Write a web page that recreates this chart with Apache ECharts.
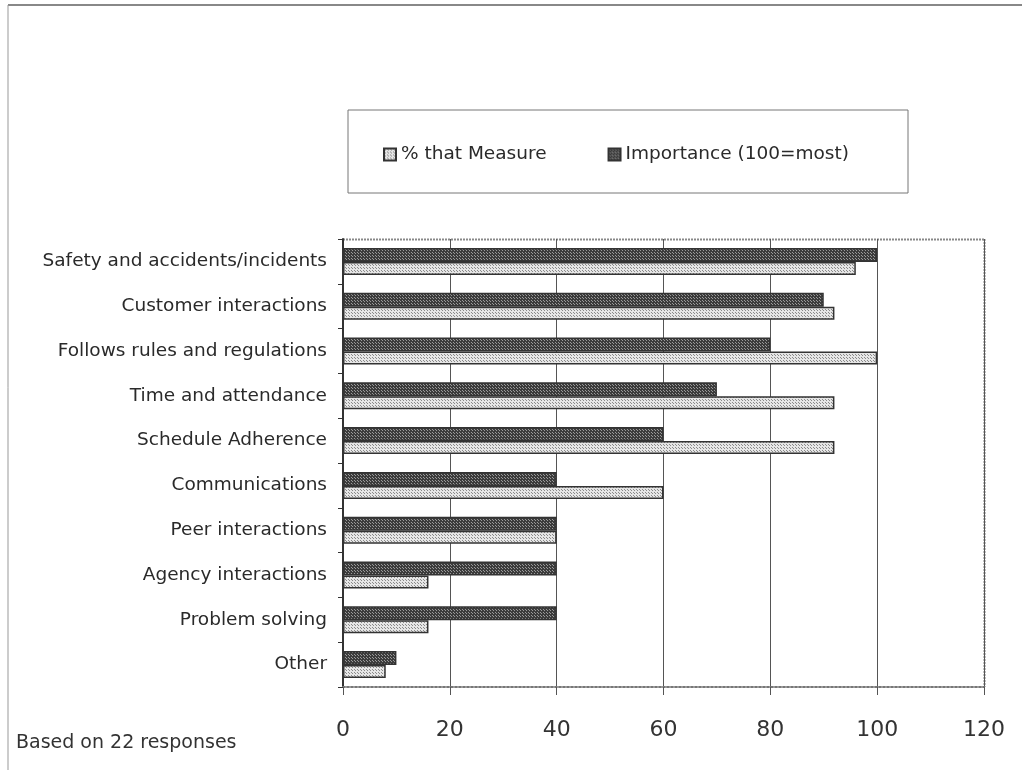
<!DOCTYPE html>
<html>
<head>
<meta charset="utf-8">
<script src="https://cdn.jsdelivr.net/npm/echarts@6/dist/echarts.min.js"></script>
<style>
  html, body { margin: 0; padding: 0; background: #fff; }
  #chart { width: 1022px; height: 770px; }
</style>
</head>
<body>
<div id="chart"></div>
<script>
// Measures, top to bottom
const categories = [
  'Safety and accidents/incidents',
  'Customer interactions',
  'Follows rules and regulations',
  'Time and attendance',
  'Schedule Adherence',
  'Communications',
  'Peer interactions',
  'Agency interactions',
  'Problem solving',
  'Other'
];
const importance = [100, 90, 80, 70, 60, 40, 40, 40, 40, 10];
const pctMeasure = [96, 92, 100, 92, 92, 60, 40, 16, 16, 8];
const xTicks = [0, 20, 40, 60, 80, 100, 120];
const footnote = 'Based on 22 responses';

// Small tiled fills for the two bar series
function makePattern(bg, dot, step) {
  const c = document.createElement('canvas');
  c.width = step; c.height = step;
  const g = c.getContext('2d');
  g.fillStyle = bg; g.fillRect(0, 0, step, step);
  g.fillStyle = dot;
  g.fillRect(0, 0, 1, 1);
  g.fillRect(Math.floor(step / 2), Math.floor(step / 2), 1, 1);
  return c;
}
const darkFill = { image: makePattern('#3c3c3c', '#9a9a9a', 3), repeat: 'repeat' };
const lightFill = { image: makePattern('#e6e6e6', '#8a8a8a', 3), repeat: 'repeat' };

const font = 'Verdana, "DejaVu Sans", sans-serif';
const chart = echarts.init(document.getElementById('chart'));

chart.setOption({
  animation: false,
  backgroundColor: '#fff',
  textStyle: { fontFamily: font },
  graphic: [
    { type: 'line', shape: { x1: 8, y1: 5, x2: 1022, y2: 5 }, style: { stroke: '#888', lineWidth: 2 } },
    { type: 'line', shape: { x1: 8, y1: 5, x2: 8, y2: 770 }, style: { stroke: '#999', lineWidth: 1 } },
    { type: 'rect', shape: { x: 348, y: 110, width: 560, height: 83 }, style: { fill: 'none', stroke: '#777', lineWidth: 1 } },
    // dotted top and right edges of the plot area
    { type: 'line', shape: { x1: 343, y1: 239.5, x2: 984.5, y2: 239.5 }, style: { stroke: '#888', lineWidth: 2, lineDash: [2, 1] } },
    { type: 'line', shape: { x1: 984.5, y1: 239, x2: 984.5, y2: 687 }, style: { stroke: '#888', lineWidth: 2, lineDash: [2, 1] } },
    { type: 'text', left: 16, top: 734, style: { text: footnote, font: '19px ' + font, fill: '#333' } }
  ],
  legend: {
    data: ['% that Measure', 'Importance (100=most)'],
    left: 378, top: 140,
    itemWidth: 12, itemHeight: 12, itemGap: 61,
    icon: 'rect',
    textStyle: { fontSize: 18.5, color: '#2a2a2a', fontFamily: font, padding: [0, 0, 0, 0] }
  },
  grid: { left: 343, top: 239, width: 641, height: 448, containLabel: false },
  xAxis: {
    type: 'value', min: 0, max: 120, interval: 20,
    axisLine: { show: true, lineStyle: { color: '#777', width: 2, type: 'dotted' } },
    axisTick: { show: true, length: 8, lineStyle: { color: '#555' } },
    axisLabel: {
      fontSize: 22, color: '#333', margin: 32, fontFamily: font,
      formatter: v => (xTicks.indexOf(v) >= 0 ? String(v) : '')
    },
    splitLine: { show: true, lineStyle: { color: '#555', width: 1 } }
  },
  yAxis: {
    type: 'category', data: categories, inverse: true,
    axisLine: { show: true, lineStyle: { color: '#333', width: 2 } },
    axisTick: { show: true, length: 5, lineStyle: { color: '#333' } },
    axisLabel: { fontSize: 18.5, color: '#2a2a2a', margin: 16, fontFamily: font }
  },
  series: [
    {
      name: 'Importance (100=most)', type: 'bar', data: importance,
      barWidth: 14, barGap: '0%', barCategoryGap: '38%',
      itemStyle: { color: darkFill, borderColor: '#333', borderWidth: 1.5 }
    },
    {
      name: '% that Measure', type: 'bar', data: pctMeasure,
      barWidth: 13,
      itemStyle: { color: lightFill, borderColor: '#333', borderWidth: 1.5 }
    }
  ]
});
</script>
</body>
</html>
